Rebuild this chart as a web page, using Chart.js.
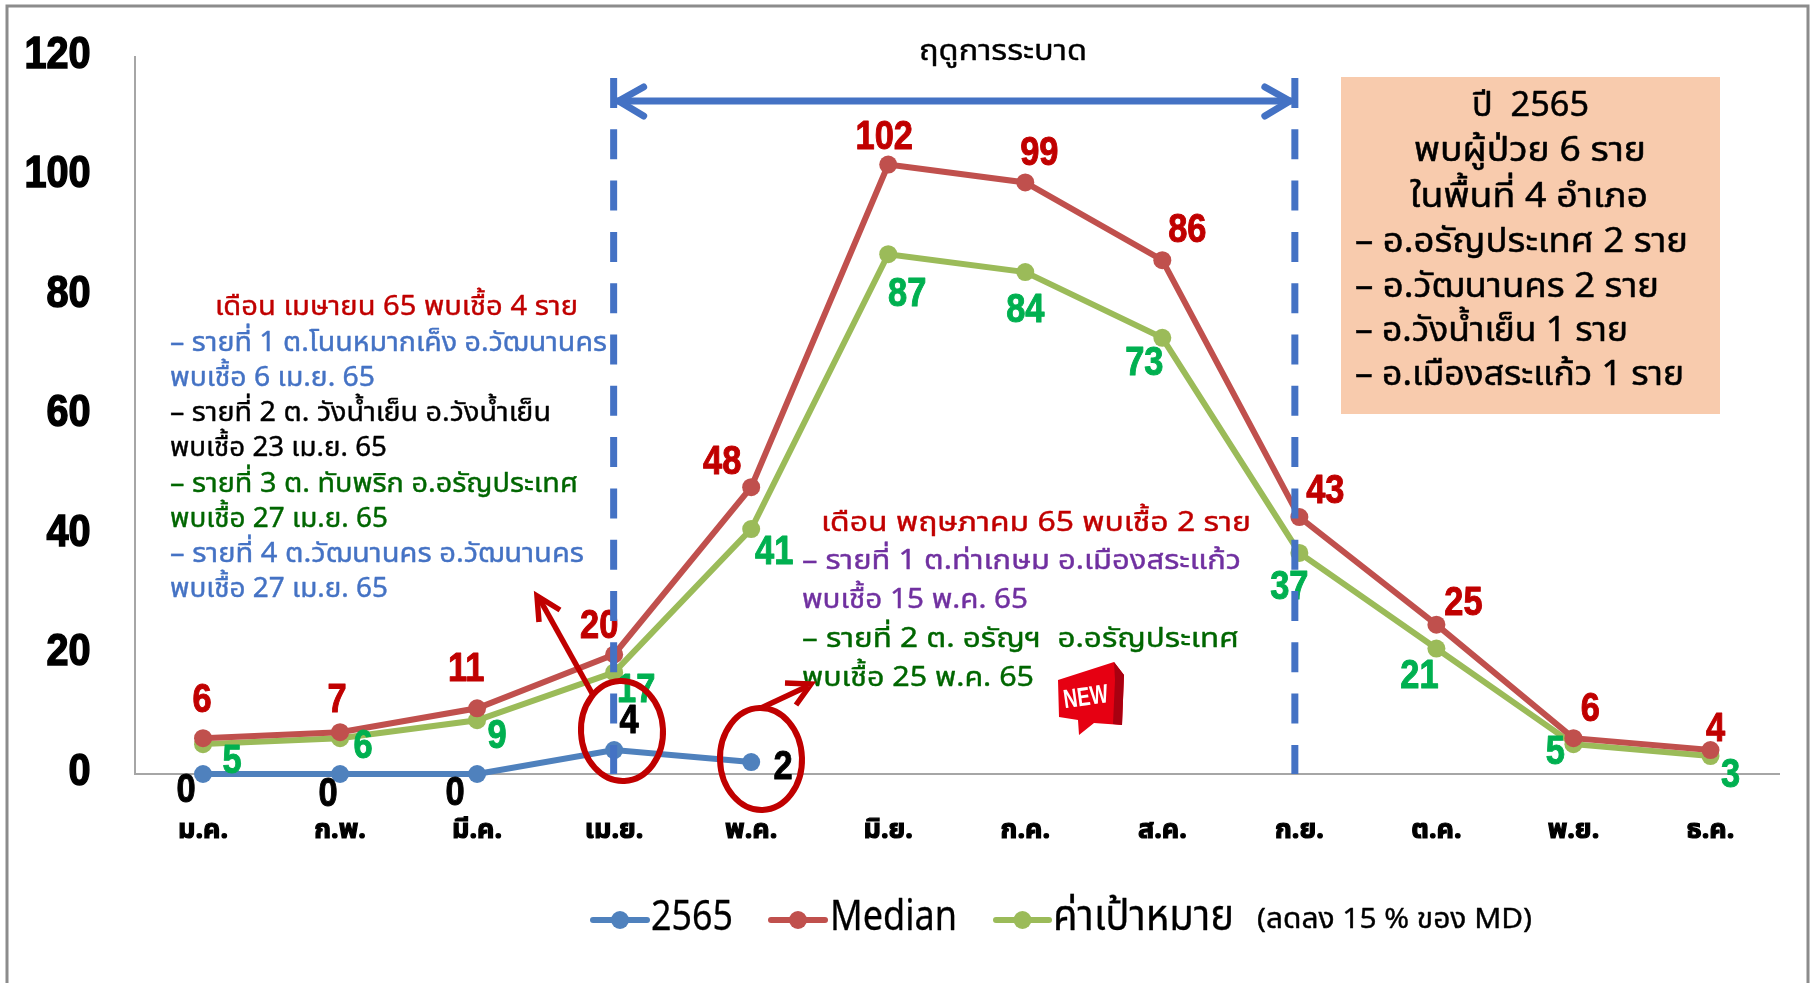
<!DOCTYPE html>
<html lang="th"><head><meta charset="utf-8"><title>ฤดูการระบาด</title>
<style>html,body{margin:0;padding:0;background:#fff}canvas{display:block}</style>
<script src="https://cdn.jsdelivr.net/npm/chart.js@4"></script></head>
<body><canvas id="c" width="1812" height="983"></canvas>
<script>
const months = ['ม.ค.','ก.พ.','มี.ค.','เม.ย.','พ.ค.','มิ.ย.','ก.ค.','ส.ค.','ก.ย.','ต.ค.','พ.ย.','ธ.ค.'];
const cases2565 = [0,0,0,4,2,null,null,null,null,null,null,null];
const median = [6,7,11,20,48,102,99,86,43,25,6,4];
const target = [5,6,9,17,41,87,84,73,37,21,5,3];
const yTicks = [0,20,40,60,80,100,120];

const labelOffsets = [
  [[-17,15],[-12,19],[-22,18],[15,-30],[32,4]],
  [[-1,-39],[-3,-33],[-11,-40],[-15,-30],[-29,-26],[-4,-29],[14,-31],[25,-31],[26,-27],[27,-23],[17,-30],[5,-22]],
  [[29,16],[23,7],[20,15],[22,17],[23,22],[19,39],[0,37],[-18,24],[-10,33],[-17,26],[-18,7],[20,18]]
];
const labelColors = ['#000000','#C00000','#00B050'];
const THAI = '"Noto Sans","Noto Sans Thai","Liberation Sans",sans-serif';
const NARROW = '"Liberation Sans","Noto Sans",sans-serif';

// text, x-start, x-end, y-centre, colour
const notes = [
 ['เดือน เมษายน 65 พบเชื้อ 4 ราย',215,578,305,'#C00000'],
 ['– รายที่ 1 ต.โนนหมากเค็ง อ.วัฒนานคร',170,607,341,'#4472C4'],
 ['พบเชื้อ 6 เม.ย. 65',170,375,376,'#4472C4'],
 ['– รายที่ 2 ต. วังน้ำเย็น อ.วังน้ำเย็น',170,551,411,'#000000'],
 ['พบเชื้อ 23 เม.ย. 65',170,387,446,'#000000'],
 ['– รายที่ 3 ต. ทับพริก อ.อรัญประเทศ',170,578,482,'#006600'],
 ['พบเชื้อ 27 เม.ย. 65',170,388,517,'#006600'],
 ['– รายที่ 4 ต.วัฒนานคร อ.วัฒนานคร',170,584,552,'#4472C4'],
 ['พบเชื้อ 27 เม.ย. 65',170,388,587,'#4472C4'],
 ['เดือน พฤษภาคม 65 พบเชื้อ 2 ราย',821,1251,521,'#C00000'],
 ['– รายที่ 1 ต.ท่าเกษม อ.เมืองสระแก้ว',802,1241,559,'#7030A0'],
 ['พบเชื้อ 15 พ.ค. 65',802,1028,598,'#7030A0'],
 ['– รายที่ 2 ต. อรัญฯ  อ.อรัญประเทศ',802,1239,637,'#006600'],
 ['พบเชื้อ 25 พ.ค. 65',802,1034,676,'#006600']
];
const boxLines = [
 ['ปี  2565',1472,1589,104],['พบผู้ป่วย 6 ราย',1414,1646,149],['ในพื้นที่ 4 อำเภอ',1410,1648,195],
 ['– อ.อรัญประเทศ 2 ราย',1355,1688,240],['– อ.วัฒนานคร 2 ราย',1355,1659,285],
 ['– อ.วังน้ำเย็น 1 ราย',1355,1628,329],['– อ.เมืองสระแก้ว 1 ราย',1355,1684,373]
];

function fitText(ctx,t,x0,x1,y,font,color,weight){
  ctx.save();ctx.font=font;ctx.fillStyle=color;ctx.strokeStyle=color;ctx.textAlign='left';ctx.textBaseline='middle';ctx.lineJoin='round';
  const w=ctx.measureText(t).width, s=(x1-x0)/w;
  ctx.translate(x0,y+2);ctx.scale(s,1);
  if(weight){ctx.lineWidth=weight;ctx.strokeText(t,0,0);}
  ctx.fillText(t,0,0);ctx.restore();
}
function stroke(ctx,pts,color,lw){
  ctx.beginPath();pts.forEach((p,i)=>i?ctx.lineTo(p[0],p[1]):ctx.moveTo(p[0],p[1]));
  ctx.strokeStyle=color;ctx.lineWidth=lw;ctx.stroke();
}
const overlay={id:'overlay',
 beforeDraw(chart){
  const c=chart.ctx;c.save();
  c.fillStyle='#fff';c.fillRect(0,0,1812,983);
  stroke(c,[[7,983],[7,6],[1808,6],[1808,983]],'#8C8C8C',3);
  c.restore();
 },
 afterDatasetsDraw(chart){
  const c=chart.ctx,xs=chart.scales.x;c.save();
  // value labels
  chart.data.datasets.forEach((d,i)=>{
    const meta=chart.getDatasetMeta(i);
    d.data.forEach((v,j)=>{
      if(v===null)return;
      const p=meta.data[j],o=labelOffsets[i][j];
      c.save();c.translate(p.x+o[0],p.y+o[1]+2);c.scale(0.86,1);
      c.font='bold 40px '+NARROW;c.fillStyle=c.strokeStyle=labelColors[i];c.lineWidth=1;c.lineJoin='round';
      c.textAlign='center';c.textBaseline='middle';
      c.strokeText(String(v),0,0);c.fillText(String(v),0,0);c.restore();
    });
  });
  // epidemic season markers
  c.lineCap='butt';c.setLineDash([30,21.3]);
  const xa=xs.getPixelForValue(3)-0.5,xb=xs.getPixelForValue(8)-4.5;
  [xa,xb].forEach(x=>stroke(c,[[x,78],[x,774]],'#4472C4',7));
  c.setLineDash([]);c.lineCap='round';c.lineJoin='round';
  stroke(c,[[xa+4,101],[xb-4,101]],'#4472C4',7);
  stroke(c,[[xa+30,87],[xa+5,101],[xa+30,116]],'#4472C4',7);
  stroke(c,[[xb-30,87],[xb-5,101],[xb-30,116]],'#4472C4',7);
  fitText(c,'ฤดูการระบาด',919,1087,50,'28px '+THAI,'#000',0.4);
  // peach box
  c.fillStyle='#F8CBAD';c.fillRect(1341,77,379,337);
  boxLines.forEach(l=>fitText(c,l[0],l[1],l[2],l[3],'34px '+THAI,'#000',0.5));
  notes.forEach(n=>fitText(c,n[0],n[1],n[2],n[3],'27px '+THAI,n[4],0.4));
  // red circles and arrows
  c.strokeStyle='#C00000';c.lineWidth=6;
  c.beginPath();c.ellipse(622,731,41,50,-0.05,0,Math.PI*2);c.stroke();
  c.beginPath();c.ellipse(761,759,41,51,-0.03,0,Math.PI*2);c.stroke();
  c.lineJoin='miter';c.lineCap='butt';
  stroke(c,[[593,695],[539,598]],'#C00000',5.5);
  stroke(c,[[539,622],[537,596],[560,610]],'#C00000',5.5);
  stroke(c,[[761,708],[808,686]],'#C00000',5.5);
  stroke(c,[[785,683],[811,684],[796,705]],'#C00000',5.5);
  // NEW badge
  c.fillStyle='#E60012';c.beginPath();
  [[1058,680],[1114,662],[1124,675],[1122,725],[1094,723],[1079,735],[1078,720],[1059,717]].forEach((p,i)=>i?c.lineTo(p[0],p[1]):c.moveTo(p[0],p[1]));
  c.closePath();c.fill();
  c.fillStyle='#A80010';c.beginPath();
  [[1114,662],[1124,675],[1122,725],[1113,724],[1115,680]].forEach((p,i)=>i?c.lineTo(p[0],p[1]):c.moveTo(p[0],p[1]));
  c.closePath();c.fill();
  c.save();c.translate(1086,698);c.rotate(-0.14);c.scale(0.8,1.1);c.font='bold 24px '+NARROW;c.fillStyle='#fff';c.textAlign='center';c.textBaseline='middle';c.fillText('NEW',0,0);c.restore();
  // legend
  c.lineCap='round';
  const leg=[[593,647,651,733],[771,825,830,957],[996,1049,1053,1234]];
  chart.data.datasets.forEach((d,i)=>{
    const l=leg[i];
    stroke(c,[[l[0],920],[l[1],920]],d.borderColor,6);
    c.fillStyle=d.borderColor;c.beginPath();c.arc((l[0]+l[1])/2,920,9,0,Math.PI*2);c.fill();
    fitText(c,d.label,l[2],l[3],916,'42px '+THAI,'#000',0.3);
  });
  fitText(c,'(ลดลง 15 % ของ MD)',1257,1532,918,'28px '+THAI,'#000',0.4);
  c.restore();
 }
};
new Chart(document.getElementById('c'),{
 type:'line',
 data:{labels:months,datasets:[
  {label:'2565',data:cases2565,borderColor:'#4F81BD',backgroundColor:'#4F81BD',clip:false},
  {label:'Median',data:median,borderColor:'#C0504D',backgroundColor:'#C0504D',clip:false},
  {label:'ค่าเป้าหมาย',data:target,borderColor:'#9BBB59',backgroundColor:'#9BBB59',clip:false}
 ]},
 options:{
  responsive:false,animation:false,devicePixelRatio:1,
  layout:{padding:{top:57,right:33,left:0,bottom:0}},
  elements:{line:{borderWidth:6,tension:0},point:{radius:9,borderWidth:0}},
  plugins:{legend:{display:false},tooltip:{enabled:false},title:{display:false}},
  scales:{
   x:{offset:true,grid:{display:false,drawTicks:false},border:{color:'#A6A6A6',width:2},
      afterFit(s){s.height=209;},
      ticks:{maxRotation:0,autoSkip:false,padding:40,color:'#000',textStrokeColor:'#000',textStrokeWidth:1.2,
             font:{family:THAI,size:27,weight:'bold'}}},
   y:{min:0,max:120,afterBuildTicks(s){s.ticks=yTicks.map(v=>({value:v}));},
      afterFit(s){
        s.width=134.5;
        if(!s._narrowed){ // condense the tick labels horizontally around their right edge
          s._narrowed=true;const draw=s.drawLabels.bind(s);
          s.drawLabels=a=>{const c=s.ctx,px=134.5-44;c.save();c.translate(px,0);c.scale(0.9,1);c.translate(-px,0);draw(a);c.restore();};
        }
      },
      grid:{display:false,drawTicks:false},border:{color:'#A6A6A6',width:2},
      ticks:{padding:44,color:'#000',textStrokeColor:'#000',textStrokeWidth:1.5,callback:v=>[String(v),''],
             font:{family:NARROW,size:44,weight:'bold',lineHeight:'3px'}}}
  }
 },
 plugins:[overlay]
});
</script></body></html>
